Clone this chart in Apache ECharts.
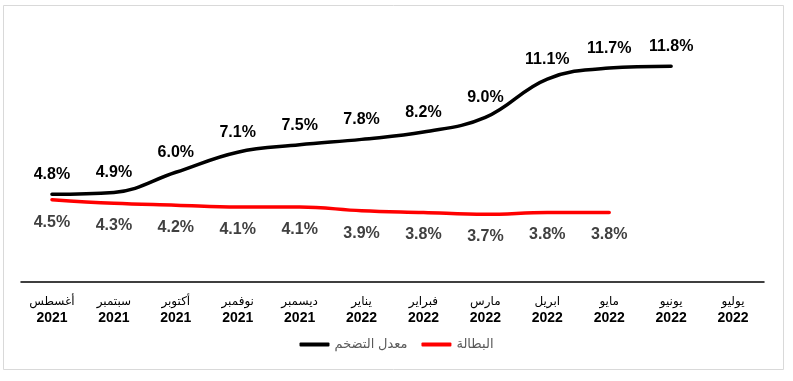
<!DOCTYPE html>
<html>
<head>
<meta charset="utf-8">
<script src="https://cdn.jsdelivr.net/npm/echarts@6/dist/echarts.min.js"></script>
<style>
html,body{margin:0;padding:0;background:#fff;}
#chart{width:793px;height:381px;}
</style>
</head>
<body>
<div id="chart"></div>
<script>
var months = ['أغسطس','سبتمبر','أكتوبر','نوفمبر','ديسمبر','يناير','فبراير','مارس','ابريل','مايو','يونيو','يوليو'];
var years = ['2021','2021','2021','2021','2021','2022','2022','2022','2022','2022','2022','2022'];
var inflationName = 'معدل التضخم';
var unemploymentName = 'البطالة';
var inflation = [4.8, 4.9, 6.0, 7.1, 7.5, 7.8, 8.2, 9.0, 11.1, 11.7, 11.8];
var unemployment = [4.5, 4.3, 4.2, 4.1, 4.1, 3.9, 3.8, 3.7, 3.8, 3.8];

var categories = months.map(function (m, i) { return m + '|' + years[i]; });
var FONT = '"Liberation Sans", Arial, "DejaVu Sans", sans-serif';

var chart = echarts.init(document.getElementById('chart'), null, {renderer: 'canvas'});
chart.setOption({
  animation: false,
  backgroundColor: '#ffffff',
  graphic: [{
    type: 'rect',
    shape: {x: 3.5, y: 5.5, width: 780, height: 364},
    style: {fill: 'none', stroke: '#d9d9d9', lineWidth: 1},
    silent: true
  }],
  grid: {left: 21, right: 29, top: 26, bottom: 99},
  legend: {
    bottom: 25,
    left: 'center',
    itemGap: 14,
    itemWidth: 30,
    itemHeight: 4,
    icon: 'roundRect',
    textStyle: {fontFamily: FONT, fontSize: 13, color: '#595959'},
    data: [
      {name: inflationName, itemStyle: {color: '#000000', opacity: 1}},
      {name: unemploymentName, itemStyle: {color: '#ff0000', opacity: 1}}
    ]
  },
  xAxis: {
    type: 'category',
    data: categories,
    boundaryGap: true,
    axisLine: {lineStyle: {color: '#000', width: 1.5}},
    axisTick: {show: false},
    axisLabel: {
      margin: 11,
      interval: 0,
      formatter: function (v) {
        var p = v.split('|');
        return '{m|' + p[0] + '}\n{y|' + p[1] + '}';
      },
      rich: {
        m: {fontFamily: FONT, fontSize: 12, color: '#000', lineHeight: 17},
        y: {fontFamily: FONT, fontSize: 14, fontWeight: 'bold', color: '#000', lineHeight: 16}
      }
    },
    splitLine: {show: false}
  },
  yAxis: {
    type: 'value',
    min: 0, max: 14,
    show: false,
    splitLine: {show: false}
  },
  series: [{
    name: inflationName,
    type: 'line',
    data: inflation,
    smooth: 0.4,
    symbol: 'circle',
    symbolSize: 1,
    showSymbol: true,
    itemStyle: {color: '#000', opacity: 0},
    lineStyle: {color: '#000', width: 3.5, cap: 'round', opacity: 1},
    label: {
      show: true,
      position: 'top',
      distance: 11,
      formatter: function (p) { return p.value.toFixed(1) + '%'; },
      fontFamily: FONT, fontSize: 16, fontWeight: 'bold', color: '#000', opacity: 1
    }
  }, {
    name: unemploymentName,
    type: 'line',
    data: unemployment,
    smooth: 0.4,
    symbol: 'circle',
    symbolSize: 1,
    showSymbol: true,
    itemStyle: {color: '#ff0000', opacity: 0},
    lineStyle: {color: '#ff0000', width: 3.5, cap: 'round', opacity: 1},
    label: {
      show: true,
      position: 'bottom',
      distance: 14,
      formatter: function (p) { return p.value.toFixed(1) + '%'; },
      fontFamily: FONT, fontSize: 16, fontWeight: 'bold', color: '#404040', opacity: 1
    }
  }]
});
</script>
</body>
</html>
